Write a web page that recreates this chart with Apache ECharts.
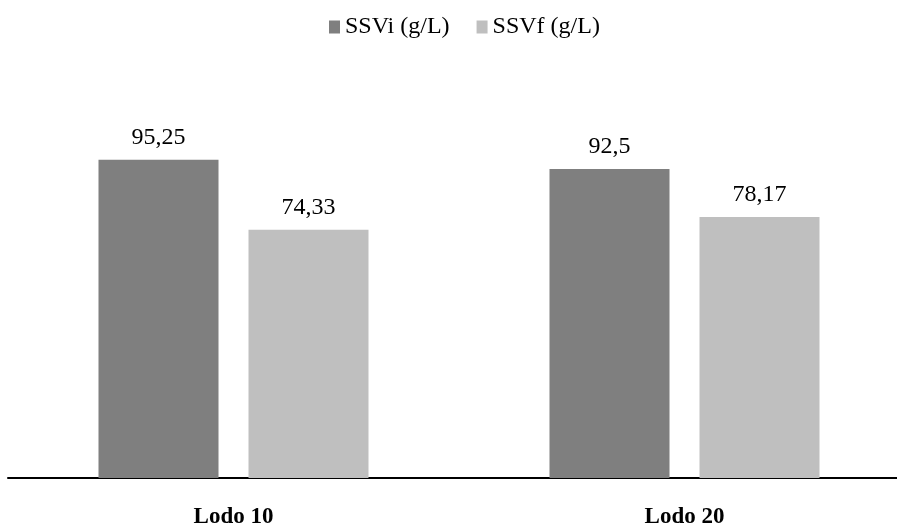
<!DOCTYPE html>
<html>
<head>
<meta charset="utf-8">
<style>html,body{margin:0;padding:0;background:#fff;overflow:hidden;}#chart{width:910px;height:527px;}</style>
<script src="https://cdn.jsdelivr.net/npm/echarts@6/dist/echarts.min.js"></script>
</head>
<body>
<div id="chart"></div>
<script>
const categories = ["Lodo 10", "Lodo 20"];
const seriesNames = ["SSVi (g/L)", "SSVf (g/L)"];
const ssvi = [95.25, 92.5];
const ssvf = [74.33, 78.17];
const labelTexts = [["95,25", "92,5"], ["74,33", "78,17"]];

const font = '"Liberation Serif", "Times New Roman", serif';
const chart = echarts.init(document.getElementById('chart'), null, {renderer: 'canvas'});
function mk(name, data, color, idx) {
  return {
    name: name, type: 'bar', data: data, barWidth: 120, barGap: '25%',
    itemStyle: {color: color},
    label: {show: true, position: 'top', distance: 10, color: '#000', fontFamily: font, fontSize: 24,
      formatter: p => labelTexts[idx][p.dataIndex]}
  };
}
chart.setOption({
  animation: false,
  textStyle: {fontFamily: font},
  legend: {
    top: 10, left: 324, itemWidth: 11, itemHeight: 13, itemGap: 27,
    textStyle: {fontFamily: font, fontSize: 24, color: '#000'},
    icon: 'rect', data: seriesNames
  },
  grid: {left: 8, right: 0, top: 144, bottom: 49, containLabel: false, outerBoundsMode: 'none'},
  xAxis: {
    type: 'category', data: categories,
    axisLine: {lineStyle: {color: '#000', width: 2}},
    axisTick: {show: false},
    axisLabel: {fontFamily: font, fontSize: 23, fontWeight: 'bold', color: '#000', margin: 28}
  },
  yAxis: {type: 'value', min: 0, max: 100, show: false, splitLine: {show: false}},
  series: [mk(seriesNames[0], ssvi, '#7f7f7f', 0), mk(seriesNames[1], ssvf, '#bfbfbf', 1)]
});
</script>
</body>
</html>
